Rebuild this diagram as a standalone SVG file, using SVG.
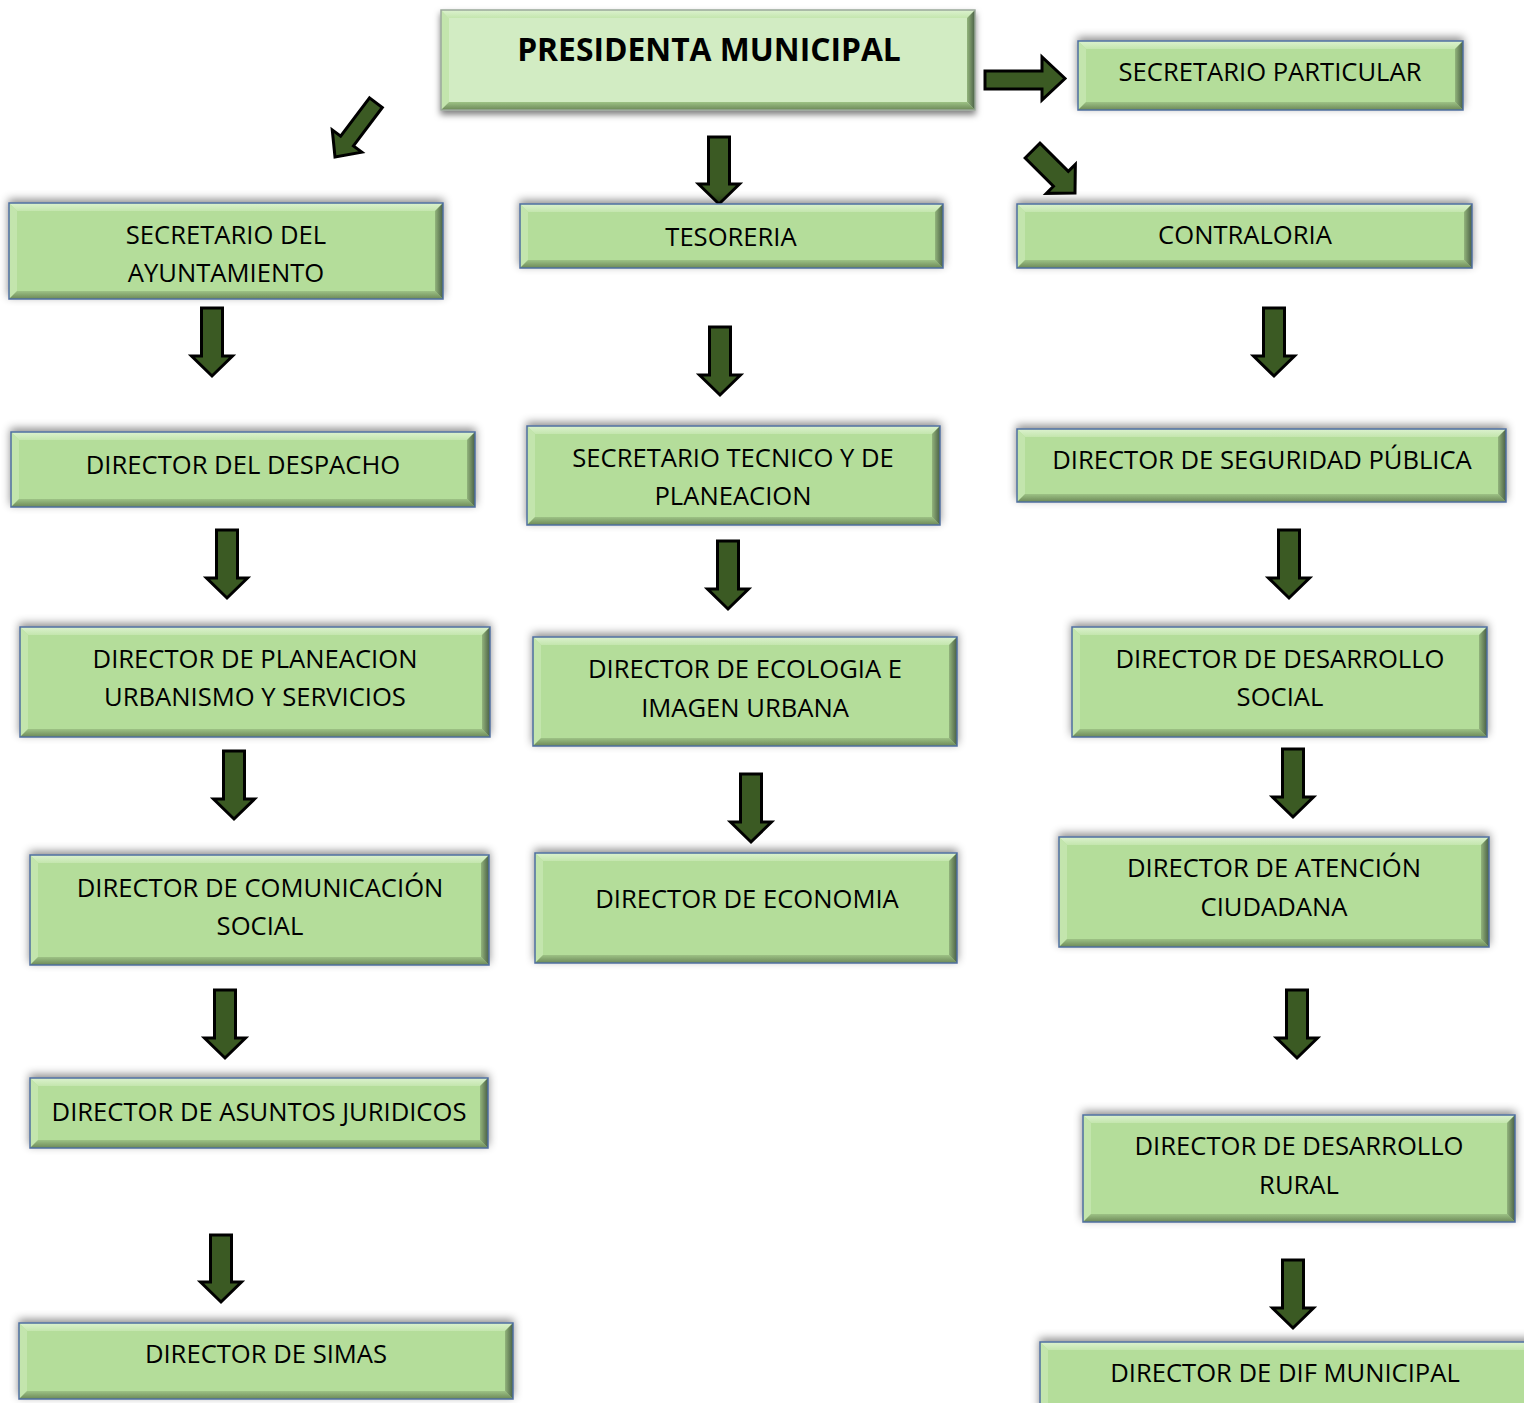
<svg xmlns="http://www.w3.org/2000/svg" width="1524" height="1403" viewBox="0 0 1524 1403">
<defs>
<filter id="sh" x="-10%" y="-40%" width="120%" height="180%">
<feDropShadow dx="0" dy="-3" stdDeviation="4" flood-color="#000" flood-opacity="0.45"/>
</filter>
<filter id="shp" x="-10%" y="-30%" width="120%" height="170%">
<feDropShadow dx="0" dy="4" stdDeviation="3" flood-color="#000" flood-opacity="0.5"/>
</filter>
<linearGradient id="gr" x1="0" y1="0" x2="1" y2="0"><stop offset="0" stop-color="#92b47c"/><stop offset="1" stop-color="#4a5f45"/></linearGradient>
<linearGradient id="gb" x1="0" y1="0" x2="0" y2="1"><stop offset="0" stop-color="#9dc285"/><stop offset="1" stop-color="#6c8858"/></linearGradient>
<linearGradient id="gt" x1="0" y1="0" x2="0" y2="1"><stop offset="0" stop-color="#dcf2cf"/><stop offset="1" stop-color="#c4e6ae"/></linearGradient>
</defs>
<style>
.f{fill:#b4dd9a}
.fp{fill:#d2ecc3}
.bt{fill:url(#gt)}
.bl{fill:#c3e5ad}
.bb{fill:url(#gb)}
.br{fill:url(#gr)}
.o{fill:none;stroke:#4f6f9e;stroke-width:1.5}
.op{fill:none;stroke:#9aa89a;stroke-width:1.5}
.t{font-family:"Open Sans","Noto Sans","DejaVu Sans",sans-serif;font-size:25.6px;text-anchor:middle;fill:#000}
.tb{font-family:"Open Sans","Noto Sans","DejaVu Sans",sans-serif;font-size:31.8px;font-weight:bold;text-anchor:middle;fill:#000}
.a{fill:#3b5a23;stroke:#000;stroke-width:3;stroke-linejoin:miter}
</style>
<rect width="1524" height="1403" fill="#fff"/>

<g id="connectors">
<path class="a" d="M985,71 H1042 V57 L1065,78.5 L1042,100 V89 H985 Z"/>
<path class="a" transform="translate(719,204)" d="M-10.5,-67 H10.5 V-20 H20.5 L0,0 L-20.5,-20 H-10.5 Z"/>
<path class="a" transform="translate(335,157) rotate(37)" d="M-8,-68 H8 V-20 H18.5 L0,0 L-18.5,-20 H-8 Z"/>
<path class="a" transform="translate(1075,193) rotate(-45)" d="M-10.5,-60 H10.5 V-20 H20.5 L0,0 L-20.5,-20 H-10.5 Z"/>
<path class="a" transform="translate(212,376)" d="M-10.5,-68 H10.5 V-20 H20.5 L0,0 L-20.5,-20 H-10.5 Z"/>
<path class="a" transform="translate(720,395)" d="M-10.5,-68 H10.5 V-20 H20.5 L0,0 L-20.5,-20 H-10.5 Z"/>
<path class="a" transform="translate(1274,376)" d="M-10.5,-68 H10.5 V-20 H20.5 L0,0 L-20.5,-20 H-10.5 Z"/>
<path class="a" transform="translate(227,598)" d="M-10.5,-68 H10.5 V-20 H20.5 L0,0 L-20.5,-20 H-10.5 Z"/>
<path class="a" transform="translate(728,609)" d="M-10.5,-68 H10.5 V-20 H20.5 L0,0 L-20.5,-20 H-10.5 Z"/>
<path class="a" transform="translate(1289,598)" d="M-10.5,-68 H10.5 V-20 H20.5 L0,0 L-20.5,-20 H-10.5 Z"/>
<path class="a" transform="translate(234,819)" d="M-10.5,-68 H10.5 V-20 H20.5 L0,0 L-20.5,-20 H-10.5 Z"/>
<path class="a" transform="translate(751,842)" d="M-10.5,-68 H10.5 V-20 H20.5 L0,0 L-20.5,-20 H-10.5 Z"/>
<path class="a" transform="translate(1293,817)" d="M-10.5,-68 H10.5 V-20 H20.5 L0,0 L-20.5,-20 H-10.5 Z"/>
<path class="a" transform="translate(225,1058)" d="M-10.5,-68 H10.5 V-20 H20.5 L0,0 L-20.5,-20 H-10.5 Z"/>
<path class="a" transform="translate(1297,1058)" d="M-10.5,-68 H10.5 V-20 H20.5 L0,0 L-20.5,-20 H-10.5 Z"/>
<path class="a" transform="translate(221,1302)" d="M-10.5,-67 H10.5 V-20 H20.5 L0,0 L-20.5,-20 H-10.5 Z"/>
<path class="a" transform="translate(1293,1328)" d="M-10.5,-68 H10.5 V-20 H20.5 L0,0 L-20.5,-20 H-10.5 Z"/>
</g>

<g id="presidenta">
<g transform="translate(441,10)" filter="url(#shp)">
<rect class="fp" width="534" height="100"/>
<polygon class="bt" points="0,0 534,0 526,8 8,8"/>
<polygon class="bl" points="0,0 8,8 8,92 0,100"/>
<polygon class="bb" points="0,100 8,92 526,92 534,100"/>
<polygon class="br" points="534,0 534,100 526,92 526,8"/>
<rect class="op" width="534" height="100"/>
</g>
<text class="tb" x="709" y="61">PRESIDENTA MUNICIPAL</text>
</g>

<g id="secretario-particular">
<g transform="translate(1078,41)" filter="url(#sh)">
<rect class="f" width="385" height="69"/>
<polygon class="bt" points="0,0 385,0 377,8 8,8"/>
<polygon class="bl" points="0,0 8,8 8,61 0,69"/>
<polygon class="bb" points="0,69 8,61 377,61 385,69"/>
<polygon class="br" points="385,0 385,69 377,61 377,8"/>
<rect class="o" width="385" height="69"/>
</g>
<text class="t" x="1270" y="81">SECRETARIO PARTICULAR</text>
</g>

<g id="secretario-ayuntamiento">
<g transform="translate(9,203)" filter="url(#sh)">
<rect class="f" width="434" height="96"/>
<polygon class="bt" points="0,0 434,0 426,8 8,8"/>
<polygon class="bl" points="0,0 8,8 8,88 0,96"/>
<polygon class="bb" points="0,96 8,88 426,88 434,96"/>
<polygon class="br" points="434,0 434,96 426,88 426,8"/>
<rect class="o" width="434" height="96"/>
</g>
<text class="t" x="226" y="244">SECRETARIO DEL</text>
<text class="t" x="226" y="282">AYUNTAMIENTO</text>
</g>

<g id="tesoreria">
<g transform="translate(520,204)" filter="url(#sh)">
<rect class="f" width="423" height="64"/>
<polygon class="bt" points="0,0 423,0 415,8 8,8"/>
<polygon class="bl" points="0,0 8,8 8,56 0,64"/>
<polygon class="bb" points="0,64 8,56 415,56 423,64"/>
<polygon class="br" points="423,0 423,64 415,56 415,8"/>
<rect class="o" width="423" height="64"/>
</g>
<text class="t" x="731" y="246">TESORERIA</text>
</g>

<g id="contraloria">
<g transform="translate(1017,204)" filter="url(#sh)">
<rect class="f" width="455" height="64"/>
<polygon class="bt" points="0,0 455,0 447,8 8,8"/>
<polygon class="bl" points="0,0 8,8 8,56 0,64"/>
<polygon class="bb" points="0,64 8,56 447,56 455,64"/>
<polygon class="br" points="455,0 455,64 447,56 447,8"/>
<rect class="o" width="455" height="64"/>
</g>
<text class="t" x="1245" y="244">CONTRALORIA</text>
</g>

<g id="director-despacho">
<g transform="translate(11,432)" filter="url(#sh)">
<rect class="f" width="464" height="75"/>
<polygon class="bt" points="0,0 464,0 456,8 8,8"/>
<polygon class="bl" points="0,0 8,8 8,67 0,75"/>
<polygon class="bb" points="0,75 8,67 456,67 464,75"/>
<polygon class="br" points="464,0 464,75 456,67 456,8"/>
<rect class="o" width="464" height="75"/>
</g>
<text class="t" x="243" y="474">DIRECTOR DEL DESPACHO</text>
</g>

<g id="secretario-tecnico">
<g transform="translate(527,426)" filter="url(#sh)">
<rect class="f" width="413" height="99"/>
<polygon class="bt" points="0,0 413,0 405,8 8,8"/>
<polygon class="bl" points="0,0 8,8 8,91 0,99"/>
<polygon class="bb" points="0,99 8,91 405,91 413,99"/>
<polygon class="br" points="413,0 413,99 405,91 405,8"/>
<rect class="o" width="413" height="99"/>
</g>
<text class="t" x="733" y="467">SECRETARIO TECNICO Y DE</text>
<text class="t" x="733" y="505">PLANEACION</text>
</g>

<g id="director-seguridad">
<g transform="translate(1017,429)" filter="url(#sh)">
<rect class="f" width="489" height="73"/>
<polygon class="bt" points="0,0 489,0 481,8 8,8"/>
<polygon class="bl" points="0,0 8,8 8,65 0,73"/>
<polygon class="bb" points="0,73 8,65 481,65 489,73"/>
<polygon class="br" points="489,0 489,73 481,65 481,8"/>
<rect class="o" width="489" height="73"/>
</g>
<text class="t" x="1262" y="469">DIRECTOR DE SEGURIDAD PÚBLICA</text>
</g>

<g id="director-planeacion">
<g transform="translate(20,627)" filter="url(#sh)">
<rect class="f" width="470" height="110"/>
<polygon class="bt" points="0,0 470,0 462,8 8,8"/>
<polygon class="bl" points="0,0 8,8 8,102 0,110"/>
<polygon class="bb" points="0,110 8,102 462,102 470,110"/>
<polygon class="br" points="470,0 470,110 462,102 462,8"/>
<rect class="o" width="470" height="110"/>
</g>
<text class="t" x="255" y="668">DIRECTOR DE PLANEACION</text>
<text class="t" x="255" y="706">URBANISMO Y SERVICIOS</text>
</g>

<g id="director-ecologia">
<g transform="translate(533,637)" filter="url(#sh)">
<rect class="f" width="424" height="109"/>
<polygon class="bt" points="0,0 424,0 416,8 8,8"/>
<polygon class="bl" points="0,0 8,8 8,101 0,109"/>
<polygon class="bb" points="0,109 8,101 416,101 424,109"/>
<polygon class="br" points="424,0 424,109 416,101 416,8"/>
<rect class="o" width="424" height="109"/>
</g>
<text class="t" x="745" y="678">DIRECTOR DE ECOLOGIA E</text>
<text class="t" x="745" y="717">IMAGEN URBANA</text>
</g>

<g id="director-desarrollo-social">
<g transform="translate(1072,627)" filter="url(#sh)">
<rect class="f" width="415" height="110"/>
<polygon class="bt" points="0,0 415,0 407,8 8,8"/>
<polygon class="bl" points="0,0 8,8 8,102 0,110"/>
<polygon class="bb" points="0,110 8,102 407,102 415,110"/>
<polygon class="br" points="415,0 415,110 407,102 407,8"/>
<rect class="o" width="415" height="110"/>
</g>
<text class="t" x="1280" y="668">DIRECTOR DE DESARROLLO</text>
<text class="t" x="1280" y="706">SOCIAL</text>
</g>

<g id="director-comunicacion">
<g transform="translate(30,855)" filter="url(#sh)">
<rect class="f" width="459" height="110"/>
<polygon class="bt" points="0,0 459,0 451,8 8,8"/>
<polygon class="bl" points="0,0 8,8 8,102 0,110"/>
<polygon class="bb" points="0,110 8,102 451,102 459,110"/>
<polygon class="br" points="459,0 459,110 451,102 451,8"/>
<rect class="o" width="459" height="110"/>
</g>
<text class="t" x="260" y="897">DIRECTOR DE COMUNICACIÓN</text>
<text class="t" x="260" y="935">SOCIAL</text>
</g>

<g id="director-economia">
<g transform="translate(535,853)" filter="url(#sh)">
<rect class="f" width="422" height="110"/>
<polygon class="bt" points="0,0 422,0 414,8 8,8"/>
<polygon class="bl" points="0,0 8,8 8,102 0,110"/>
<polygon class="bb" points="0,110 8,102 414,102 422,110"/>
<polygon class="br" points="422,0 422,110 414,102 414,8"/>
<rect class="o" width="422" height="110"/>
</g>
<text class="t" x="747" y="908">DIRECTOR DE ECONOMIA</text>
</g>

<g id="director-atencion">
<g transform="translate(1059,837)" filter="url(#sh)">
<rect class="f" width="430" height="110"/>
<polygon class="bt" points="0,0 430,0 422,8 8,8"/>
<polygon class="bl" points="0,0 8,8 8,102 0,110"/>
<polygon class="bb" points="0,110 8,102 422,102 430,110"/>
<polygon class="br" points="430,0 430,110 422,102 422,8"/>
<rect class="o" width="430" height="110"/>
</g>
<text class="t" x="1274" y="877">DIRECTOR DE ATENCIÓN</text>
<text class="t" x="1274" y="916">CIUDADANA</text>
</g>

<g id="director-juridicos">
<g transform="translate(30,1078)" filter="url(#sh)">
<rect class="f" width="458" height="70"/>
<polygon class="bt" points="0,0 458,0 450,8 8,8"/>
<polygon class="bl" points="0,0 8,8 8,62 0,70"/>
<polygon class="bb" points="0,70 8,62 450,62 458,70"/>
<polygon class="br" points="458,0 458,70 450,62 450,8"/>
<rect class="o" width="458" height="70"/>
</g>
<text class="t" x="259" y="1121">DIRECTOR DE ASUNTOS JURIDICOS</text>
</g>

<g id="director-rural">
<g transform="translate(1083,1115)" filter="url(#sh)">
<rect class="f" width="432" height="107"/>
<polygon class="bt" points="0,0 432,0 424,8 8,8"/>
<polygon class="bl" points="0,0 8,8 8,99 0,107"/>
<polygon class="bb" points="0,107 8,99 424,99 432,107"/>
<polygon class="br" points="432,0 432,107 424,99 424,8"/>
<rect class="o" width="432" height="107"/>
</g>
<text class="t" x="1299" y="1155">DIRECTOR DE DESARROLLO</text>
<text class="t" x="1299" y="1194">RURAL</text>
</g>

<g id="director-simas">
<g transform="translate(19,1323)" filter="url(#sh)">
<rect class="f" width="494" height="76"/>
<polygon class="bt" points="0,0 494,0 486,8 8,8"/>
<polygon class="bl" points="0,0 8,8 8,68 0,76"/>
<polygon class="bb" points="0,76 8,68 486,68 494,76"/>
<polygon class="br" points="494,0 494,76 486,68 486,8"/>
<rect class="o" width="494" height="76"/>
</g>
<text class="t" x="266" y="1363">DIRECTOR DE SIMAS</text>
</g>

<g id="director-dif">
<g transform="translate(1040,1342)" filter="url(#sh)">
<rect class="f" width="500" height="70"/>
<polygon class="bt" points="0,0 500,0 492,8 8,8"/>
<polygon class="bl" points="0,0 8,8 8,62 0,70"/>
<polygon class="bb" points="0,70 8,62 492,62 500,70"/>
<polygon class="br" points="500,0 500,70 492,62 492,8"/>
<rect class="o" width="500" height="70"/>
</g>
<text class="t" x="1285" y="1382">DIRECTOR DE DIF MUNICIPAL</text>
</g>

</svg>
